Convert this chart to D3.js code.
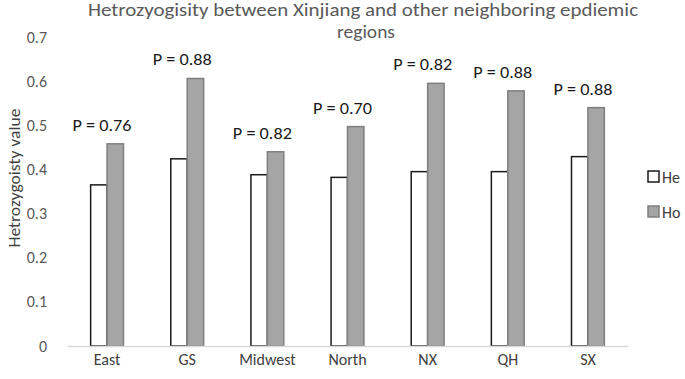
<!DOCTYPE html>
<html>
<head>
<meta charset="utf-8">
<script src="https://cdn.jsdelivr.net/npm/d3@7"></script>
<style>
  body { margin: 0; background: #fff; }
  text { font-family: Carlito, Lato, "Open Sans", sans-serif; }
</style>
</head>
<body>
<div id="chart"></div>
<script>
// Data
const regions = ['East', 'GS', 'Midwest', 'North', 'NX', 'QH', 'SX']
const heValues = [0.365, 0.424, 0.388, 0.382, 0.395, 0.395, 0.429]
const hoValues = [0.458, 0.606, 0.440, 0.497, 0.595, 0.578, 0.540]
const pLabels = ['P = 0.76', 'P = 0.88', 'P = 0.82', 'P = 0.70', 'P = 0.82', 'P = 0.88', 'P = 0.88']
const seriesNames = ['He', 'Ho']
const yTicks = [0, 0.1, 0.2, 0.3, 0.4, 0.5, 0.6, 0.7]

function draw() {
  const width = 685
  const height = 379
  const plot = { left: 67, right: 628, top: 37, bottom: 346 }

  const svg = d3.select('#chart')
    .append('svg')
    .attr('width', width)
    .attr('height', height)

  const rows = regions.map((r, i) => ({ region: r, He: heValues[i], Ho: hoValues[i], p: pLabels[i] }))

  // Scales
  const x0 = d3.scaleBand()
    .domain(regions)
    .range([plot.left, plot.right])
    .paddingInner(0.59)
    .paddingOuter(0.295)

  const x1 = d3.scaleBand()
    .domain(seriesNames)
    .range([0, x0.bandwidth()])

  const y = d3.scaleLinear()
    .domain([0, 0.7])
    .range([plot.bottom, plot.top])

  const fills = { He: '#ffffff', Ho: '#a5a5a5' }
  const strokes = { He: '#1a1a1a', Ho: '#7f7f7f' }

  // Title (stretched to the width of the original)
  const title = svg.append('text')
    .attr('text-anchor', 'middle')
    .attr('fill', '#595959')
    .style('font-size', '18px')
  title.append('tspan').attr('x', 363).attr('y', 16)
    .attr('textLength', 550).attr('lengthAdjust', 'spacingAndGlyphs')
    .text('Hetrozyogisity between Xinjiang  and other neighboring epdiemic')
  title.append('tspan').attr('x', 366).attr('y', 38)
    .attr('textLength', 58).attr('lengthAdjust', 'spacingAndGlyphs')
    .text('regions')

  // Y axis (labels only)
  const yAxis = svg.append('g')
    .attr('transform', `translate(${plot.left - 12},0)`)
    .call(d3.axisLeft(y).tickValues(yTicks).tickSize(0).tickPadding(8)
      .tickFormat(d => d === 0 ? '0' : d3.format('.1f')(d)))
  yAxis.select('.domain').remove()
  yAxis.selectAll('text')
    .attr('fill', '#595959')
    .style('font-size', '16px')

  svg.append('text')
    .attr('transform', 'translate(14, 178) rotate(-90)')
    .attr('text-anchor', 'middle')
    .attr('dy', '0.35em')
    .attr('fill', '#404040')
    .style('font-size', '17px')
    .attr('textLength', 139)
    .attr('lengthAdjust', 'spacingAndGlyphs')
    .text('Hetrozygoisty value')

  // Bars
  const groups = svg.append('g')
    .selectAll('g')
    .data(rows)
    .join('g')
    .attr('transform', d => `translate(${x0(d.region)},0)`)

  groups.selectAll('rect')
    .data(d => seriesNames.map(k => ({ key: k, value: d[k] })))
    .join('rect')
    .attr('x', d => x1(d.key))
    .attr('y', d => y(d.value))
    .attr('width', x1.bandwidth())
    .attr('height', d => y(0) - y(d.value))
    .attr('fill', d => fills[d.key])
    .attr('stroke', d => strokes[d.key])
    .attr('stroke-width', 1.5)

  // P labels
  groups.append('text')
    .attr('x', x0.bandwidth() / 2 - 5)
    .attr('y', d => y(d.Ho) - 13)
    .attr('text-anchor', 'middle')
    .attr('fill', '#1a1a1a')
    .style('font-size', '16px')
    .attr('textLength', 59)
    .attr('lengthAdjust', 'spacingAndGlyphs')
    .text(d => d.p)

  // X axis
  const xAxis = svg.append('g')
    .attr('transform', `translate(0,${plot.bottom})`)
    .call(d3.axisBottom(x0).tickSize(0).tickPadding(8))
  xAxis.select('.domain')
    .attr('stroke', '#d9d9d9')
    .attr('stroke-width', 1.5)
  xAxis.selectAll('text')
    .attr('fill', '#404040')
    .style('font-size', '16px')

  // Legend
  const legend = svg.append('g')
    .attr('transform', 'translate(648,171)')
  const items = legend.selectAll('g')
    .data(seriesNames)
    .join('g')
    .attr('transform', (d, i) => `translate(0,${i * 35})`)
  items.append('rect')
    .attr('width', 11)
    .attr('height', 11)
    .attr('fill', d => fills[d])
    .attr('stroke', d => strokes[d])
    .attr('stroke-width', 1.5)
  items.append('text')
    .attr('x', 14)
    .attr('y', 6)
    .attr('dy', '0.35em')
    .attr('fill', '#404040')
    .style('font-size', '16px')
    .text(d => d)
}

draw()
</script>
</body>
</html>
